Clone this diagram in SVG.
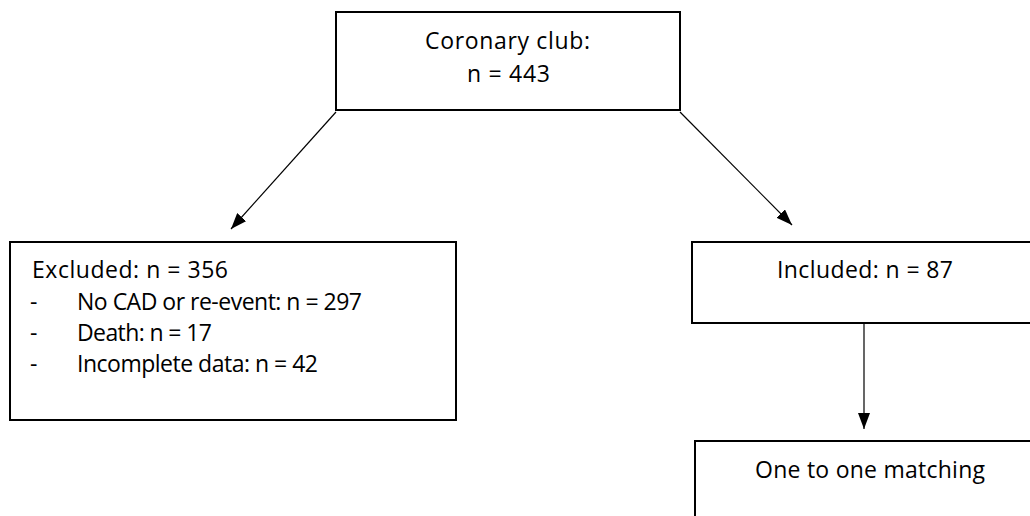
<svg xmlns="http://www.w3.org/2000/svg" width="1030" height="516" viewBox="0 0 1030 516">
<style>
.box{fill:#fff;stroke:#000;stroke-width:2}
.t{font-family:"Open Sans","Liberation Sans",Arial,sans-serif;font-size:23px;fill:#000}
.c{stroke:#000;stroke-width:1.2;fill:none}
</style>
<defs>
<marker id="ah" viewBox="0 0 16 12" refX="16" refY="6" markerWidth="16" markerHeight="12" markerUnits="userSpaceOnUse" orient="auto">
<path d="M0,0 L16,6 L0,12 Z" fill="#000"/>
</marker>
</defs>
<rect width="1030" height="516" fill="#fff"/>
<g id="connectors">
<line class="c" x1="336" y1="112" x2="231" y2="229" marker-end="url(#ah)"/>
<line class="c" x1="680" y1="112" x2="792" y2="225" marker-end="url(#ah)"/>
<line class="c" x1="864" y1="319" x2="864" y2="429" marker-end="url(#ah)"/>
</g>
<g id="coronary">
<rect class="box" x="336" y="12" width="344" height="98"/>
<text class="t" x="425" y="49" textLength="165">Coronary club:</text>
<text class="t" x="467" y="82" textLength="83">n = 443</text>
</g>
<g id="excluded">
<rect class="box" x="10" y="242" width="446" height="178"/>
<text class="t" x="32" y="278" textLength="196">Excluded: n = 356</text>
<text class="t" x="30" y="310">-</text>
<text class="t" x="77" y="310" textLength="285">No CAD or re-event: n = 297</text>
<text class="t" x="30" y="341">-</text>
<text class="t" x="77" y="341" textLength="135">Death: n = 17</text>
<text class="t" x="30" y="372">-</text>
<text class="t" x="77" y="372" textLength="241">Incomplete data: n = 42</text>
</g>
<g id="included">
<rect class="box" x="692" y="242" width="345" height="81"/>
<text class="t" x="777" y="278" textLength="176">Included: n = 87</text>
</g>
<g id="matching">
<rect class="box" x="695" y="441" width="345" height="100"/>
<text class="t" x="755" y="478" textLength="230">One to one matching</text>
</g>
</svg>
